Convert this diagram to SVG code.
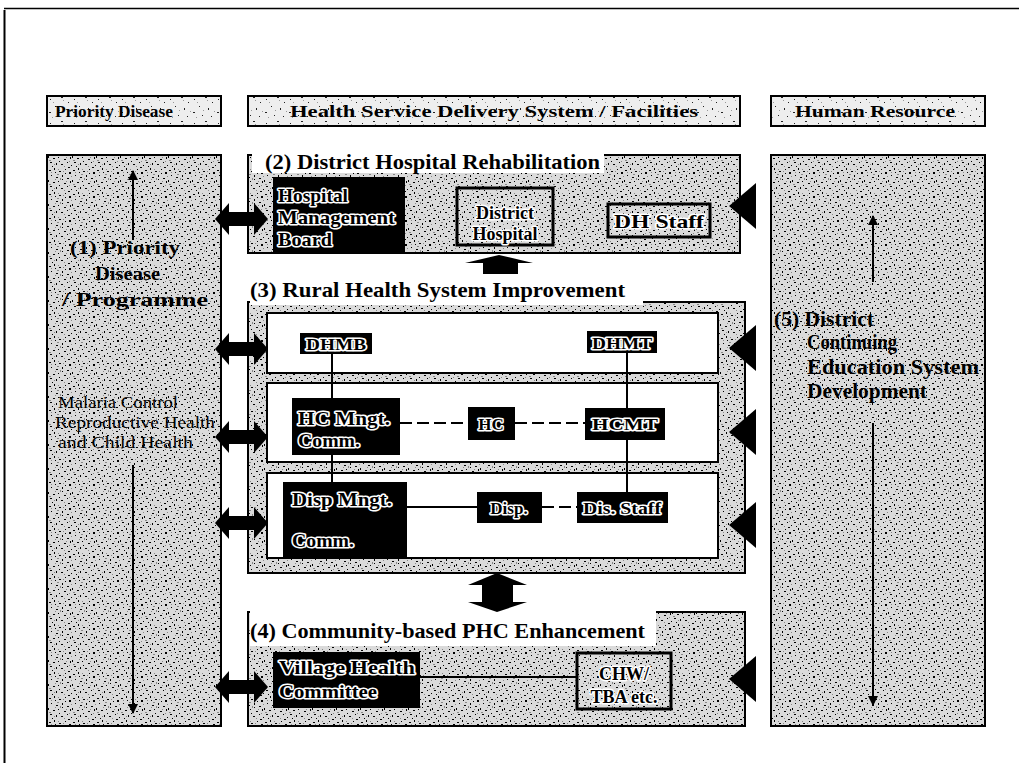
<svg xmlns="http://www.w3.org/2000/svg" width="1019" height="763" viewBox="0 0 1019 763">
<defs>
<pattern id="stip" width="24" height="24" patternUnits="userSpaceOnUse">
<rect width="24" height="24" fill="#dadada"/>
<g fill="#000">
<rect x="1" y="2" width="2" height="1"/><rect x="6" y="0" width="1" height="2"/><rect x="11" y="3" width="2" height="1"/><rect x="17" y="1" width="1" height="1"/><rect x="21" y="4" width="2" height="2"/><rect x="3" y="7" width="1" height="1"/><rect x="8" y="9" width="2" height="1"/><rect x="14" y="7" width="1" height="2"/><rect x="19" y="10" width="2" height="1"/><rect x="0" y="12" width="1" height="2"/><rect x="5" y="14" width="2" height="1"/><rect x="10" y="13" width="1" height="1"/><rect x="16" y="15" width="2" height="1"/><rect x="22" y="13" width="1" height="2"/><rect x="2" y="18" width="2" height="1"/><rect x="8" y="19" width="1" height="2"/><rect x="13" y="20" width="2" height="1"/><rect x="19" y="18" width="1" height="1"/><rect x="23" y="21" width="1" height="1"/><rect x="4" y="22" width="1" height="1"/><rect x="11" y="17" width="1" height="1"/><rect x="17" y="5" width="1" height="1"/><rect x="7" y="4" width="1" height="1"/><rect x="20" y="23" width="2" height="1"/><rect x="14" y="11" width="1" height="1"/>
</g>
<g fill="#888">
<rect x="3" y="4" width="1" height="1"/><rect x="9" y="6" width="2" height="1"/><rect x="15" y="3" width="1" height="1"/><rect x="12" y="10" width="1" height="2"/><rect x="18" y="13" width="1" height="1"/><rect x="1" y="16" width="2" height="1"/><rect x="7" y="11" width="1" height="1"/><rect x="21" y="17" width="1" height="1"/><rect x="6" y="20" width="1" height="1"/><rect x="16" y="22" width="1" height="1"/><rect x="10" y="1" width="1" height="1"/><rect x="23" y="8" width="1" height="1"/>
</g>
</pattern>
<pattern id="stipL" width="24" height="24" patternUnits="userSpaceOnUse">
<rect width="24" height="24" fill="#eeeeee"/>
<g fill="#222">
<rect x="2" y="3" width="1" height="1"/><rect x="13" y="1" width="2" height="1"/><rect x="20" y="6" width="1" height="1"/><rect x="7" y="10" width="1" height="1"/><rect x="16" y="12" width="1" height="2"/><rect x="1" y="16" width="2" height="1"/><rect x="10" y="19" width="1" height="1"/><rect x="19" y="20" width="1" height="1"/>
</g>
<g fill="#999">
<rect x="5" y="6" width="1" height="1"/><rect x="11" y="14" width="1" height="1"/><rect x="22" y="15" width="1" height="1"/><rect x="15" y="4" width="1" height="1"/><rect x="4" y="21" width="1" height="1"/>
</g>
</pattern>
<marker id="ah" viewBox="0 0 10 10" refX="9" refY="5" markerWidth="5" markerHeight="5" orient="auto">
<path d="M0,0 L10,5 L0,10 z" fill="#000"/>
</marker>
<style>
.t{font-family:"Liberation Serif","Times New Roman",serif;font-weight:bold;fill:#000}
.n{font-weight:normal}
.halo{stroke:#fff;stroke-width:3;paint-order:stroke;stroke-linejoin:round}
.blk{fill:#000}
.bord{fill:url(#stip);stroke:#000;stroke-width:3}
.panel{fill:url(#stip);stroke:#000;stroke-width:2}
.hdr{fill:url(#stipL);stroke:#000;stroke-width:2}
.row{fill:#fff;stroke:#000;stroke-width:2}
.ln{stroke:#000;stroke-width:2;fill:none}
.dash{stroke-dasharray:12 5}
.arr{stroke:#000;stroke-width:2;fill:none;marker-end:url(#ah)}
.blkarrow{fill:#000}
</style>
</defs>

<rect width="1019" height="763" fill="#fff"/>

<g id="frame">
<path d="M4.5,10 V763" stroke="#000" stroke-width="2" fill="none"/>
<path d="M4,8.5 H1019" stroke="#000" stroke-width="1.5" fill="none"/>
</g>

<g id="header-priority">
<rect class="hdr" x="47" y="96" width="174" height="30"/>
<text class="t" x="114" y="117" font-size="16" text-anchor="middle" textLength="118" lengthAdjust="spacingAndGlyphs">Priority Disease</text>
</g>
<g id="header-health">
<rect class="hdr" x="248" y="96" width="492" height="30"/>
<text class="t" x="494" y="117" font-size="16" text-anchor="middle" textLength="408" lengthAdjust="spacingAndGlyphs">Health Service Delivery System / Facilities</text>
</g>
<g id="header-human">
<rect class="hdr" x="771" y="96" width="214" height="30"/>
<text class="t" x="875" y="117" font-size="16" text-anchor="middle" textLength="160" lengthAdjust="spacingAndGlyphs">Human Resource</text>
</g>

<g id="priority-disease">
<rect class="panel" x="47" y="155" width="174" height="571"/>
<path class="arr" d="M133,240 V171"/>
<path class="arr" d="M133,465 V713"/>
<text class="t" font-size="19"><tspan x="70" y="254" textLength="110" lengthAdjust="spacingAndGlyphs">(1) Priority</tspan><tspan x="95" y="280" textLength="65" lengthAdjust="spacingAndGlyphs">Disease</tspan><tspan x="62" y="306" textLength="146" lengthAdjust="spacingAndGlyphs">/ Programme</tspan></text>
<text class="t n" font-size="17"><tspan x="58" y="408" textLength="120" lengthAdjust="spacingAndGlyphs">Malaria Control</tspan><tspan x="55" y="428" textLength="160" lengthAdjust="spacingAndGlyphs">Reproductive Health</tspan><tspan x="58" y="448" textLength="135" lengthAdjust="spacingAndGlyphs">and Child Health</tspan></text>
</g>

<g id="human-resource">
<rect class="panel" x="771" y="155" width="214" height="571"/>
<path class="arr" d="M873,282 V216"/>
<path class="arr" d="M873,423 V705"/>
<text class="t" font-size="20"><tspan x="774" y="326" textLength="100" lengthAdjust="spacingAndGlyphs">(5) District</tspan><tspan x="807" y="349" textLength="90" lengthAdjust="spacingAndGlyphs">Continuing</tspan><tspan x="807" y="374" textLength="172" lengthAdjust="spacingAndGlyphs">Education System</tspan><tspan x="807" y="398" textLength="120" lengthAdjust="spacingAndGlyphs">Development</tspan></text>
</g>

<g id="district-hospital-rehab">
<rect class="panel" x="248" y="155" width="492" height="98"/>
<rect x="252" y="146" width="352" height="27" fill="#fff"/>
<text class="t" x="265" y="169" font-size="21" textLength="335" lengthAdjust="spacingAndGlyphs">(2) District Hospital Rehabilitation</text>
</g>

<g id="rural-health-system">
<rect class="panel" x="248" y="302" width="497" height="271"/>
<rect x="250" y="276" width="393" height="29" fill="#fff"/>
<text class="t" x="250" y="297" font-size="21" textLength="375" lengthAdjust="spacingAndGlyphs">(3)  Rural Health System Improvement</text>
<rect class="row" x="267" y="313" width="451" height="60"/>
<rect class="row" x="267" y="383" width="451" height="79"/>
<rect class="row" x="267" y="473" width="451" height="85"/>
</g>

<g id="community-phc">
<rect class="panel" x="248" y="612" width="497" height="114"/>
<rect x="250" y="608" width="406" height="38" fill="#fff"/>
<text class="t" x="250" y="638" font-size="21" textLength="395" lengthAdjust="spacingAndGlyphs">(4) Community-based PHC Enhancement</text>
</g>

<g id="connectors">
<path class="ln" d="M332,354 V398 M332,455 V482"/>
<path class="ln" d="M627,353 V492"/>
<path class="ln dash" d="M400,423 H468 M515,423 H585"/>
<path class="ln" d="M407,507 H477"/>
<path class="ln dash" d="M542,507 H577"/>
<path class="ln" d="M420,677 H577"/>
<polygon class="blkarrow" points="499,255 533,263 518,263 518,274 483,274 483,263 465,263"/>
<polygon class="blkarrow" points="497,573 527,585 513,585 513,602 527,602 497,612 468,602 482,602 482,585 468,585"/>
<g class="blkarrow">
<polygon points="215,219 229,203 229,212 254,212 254,203 268,219 254,235 254,226 229,226 229,235"/>
<polygon points="215,349 229,333 229,342 254,342 254,333 268,349 254,365 254,356 229,356 229,365"/>
<polygon points="215,437 229,421 229,430 254,430 254,421 268,437 254,453 254,444 229,444 229,453"/>
<polygon points="215,523 229,507 229,516 254,516 254,507 268,523 254,539 254,530 229,530 229,539"/>
<polygon points="215,687 229,671 229,680 254,680 254,671 268,687 254,703 254,694 229,694 229,703"/>
<polygon points="729,206 756,183 756,229"/>
<polygon points="729,348 756,325 756,371"/>
<polygon points="729,432 756,409 756,455"/>
<polygon points="729,525 756,502 756,548"/>
<polygon points="729,679 756,656 756,702"/>
</g>
</g>

<g id="hospital-management-board">
<rect class="blk" x="273" y="177" width="132" height="75"/>
<text class="t halo" font-size="19"><tspan x="278" y="202" textLength="70" lengthAdjust="spacingAndGlyphs">Hospital</tspan><tspan x="278" y="224" textLength="117" lengthAdjust="spacingAndGlyphs">Management</tspan><tspan x="278" y="246" textLength="54" lengthAdjust="spacingAndGlyphs">Board</tspan></text>
</g>
<g id="district-hospital">
<rect class="bord" x="457" y="188" width="96" height="57"/>
<text class="t halo" font-size="18" text-anchor="middle"><tspan x="505" y="219">District</tspan><tspan x="505" y="240">Hospital</tspan></text>
</g>
<g id="dh-staff">
<rect class="bord" x="608" y="204" width="102" height="33"/>
<text class="t halo" x="659" y="228" font-size="19" text-anchor="middle" textLength="90" lengthAdjust="spacingAndGlyphs">DH Staff</text>
</g>

<g id="dhmb">
<rect class="blk" x="300" y="333" width="72" height="21"/>
<text class="t halo" x="336" y="350" font-size="16" text-anchor="middle" textLength="60" lengthAdjust="spacingAndGlyphs">DHMB</text>
</g>
<g id="dhmt">
<rect class="blk" x="587" y="331" width="70" height="22"/>
<text class="t halo" x="622" y="349" font-size="16" text-anchor="middle" textLength="60" lengthAdjust="spacingAndGlyphs">DHMT</text>
</g>
<g id="hc-mngt-comm">
<rect class="blk" x="292" y="398" width="108" height="57"/>
<text class="t halo" font-size="18"><tspan x="298" y="425" textLength="92" lengthAdjust="spacingAndGlyphs">HC Mngt.</tspan><tspan x="298" y="447" textLength="62" lengthAdjust="spacingAndGlyphs">Comm.</tspan></text>
</g>
<g id="hc">
<rect class="blk" x="468" y="407" width="47" height="33"/>
<text class="t halo" x="491" y="430" font-size="17" text-anchor="middle">HC</text>
</g>
<g id="hcmt">
<rect class="blk" x="585" y="408" width="80" height="32"/>
<text class="t halo" x="625" y="430" font-size="17" text-anchor="middle" textLength="66" lengthAdjust="spacingAndGlyphs">HCMT</text>
</g>
<g id="disp-mngt-comm">
<rect class="blk" x="283" y="482" width="124" height="76"/>
<text class="t halo" font-size="18"><tspan x="292" y="506" textLength="100" lengthAdjust="spacingAndGlyphs">Disp Mngt.</tspan><tspan x="292" y="547" textLength="62" lengthAdjust="spacingAndGlyphs">Comm.</tspan></text>
</g>
<g id="disp">
<rect class="blk" x="477" y="492" width="65" height="31"/>
<text class="t halo" x="509" y="514" font-size="17" text-anchor="middle">Disp.</text>
</g>
<g id="dis-staff">
<rect class="blk" x="577" y="492" width="91" height="31"/>
<text class="t halo" x="622" y="514" font-size="17" text-anchor="middle" textLength="78" lengthAdjust="spacingAndGlyphs">Dis. Staff</text>
</g>

<g id="village-health-committee">
<rect class="blk" x="273" y="652" width="147" height="56"/>
<text class="t halo" font-size="18"><tspan x="279" y="674" textLength="136" lengthAdjust="spacingAndGlyphs">Village Health</tspan><tspan x="279" y="698" textLength="98" lengthAdjust="spacingAndGlyphs">Committee</tspan></text>
</g>
<g id="chw-tba">
<rect class="bord" x="577" y="653" width="94" height="56"/>
<text class="t halo" font-size="18" text-anchor="middle"><tspan x="624" y="680">CHW/</tspan><tspan x="624" y="703">TBA etc.</tspan></text>
</g>
</svg>
